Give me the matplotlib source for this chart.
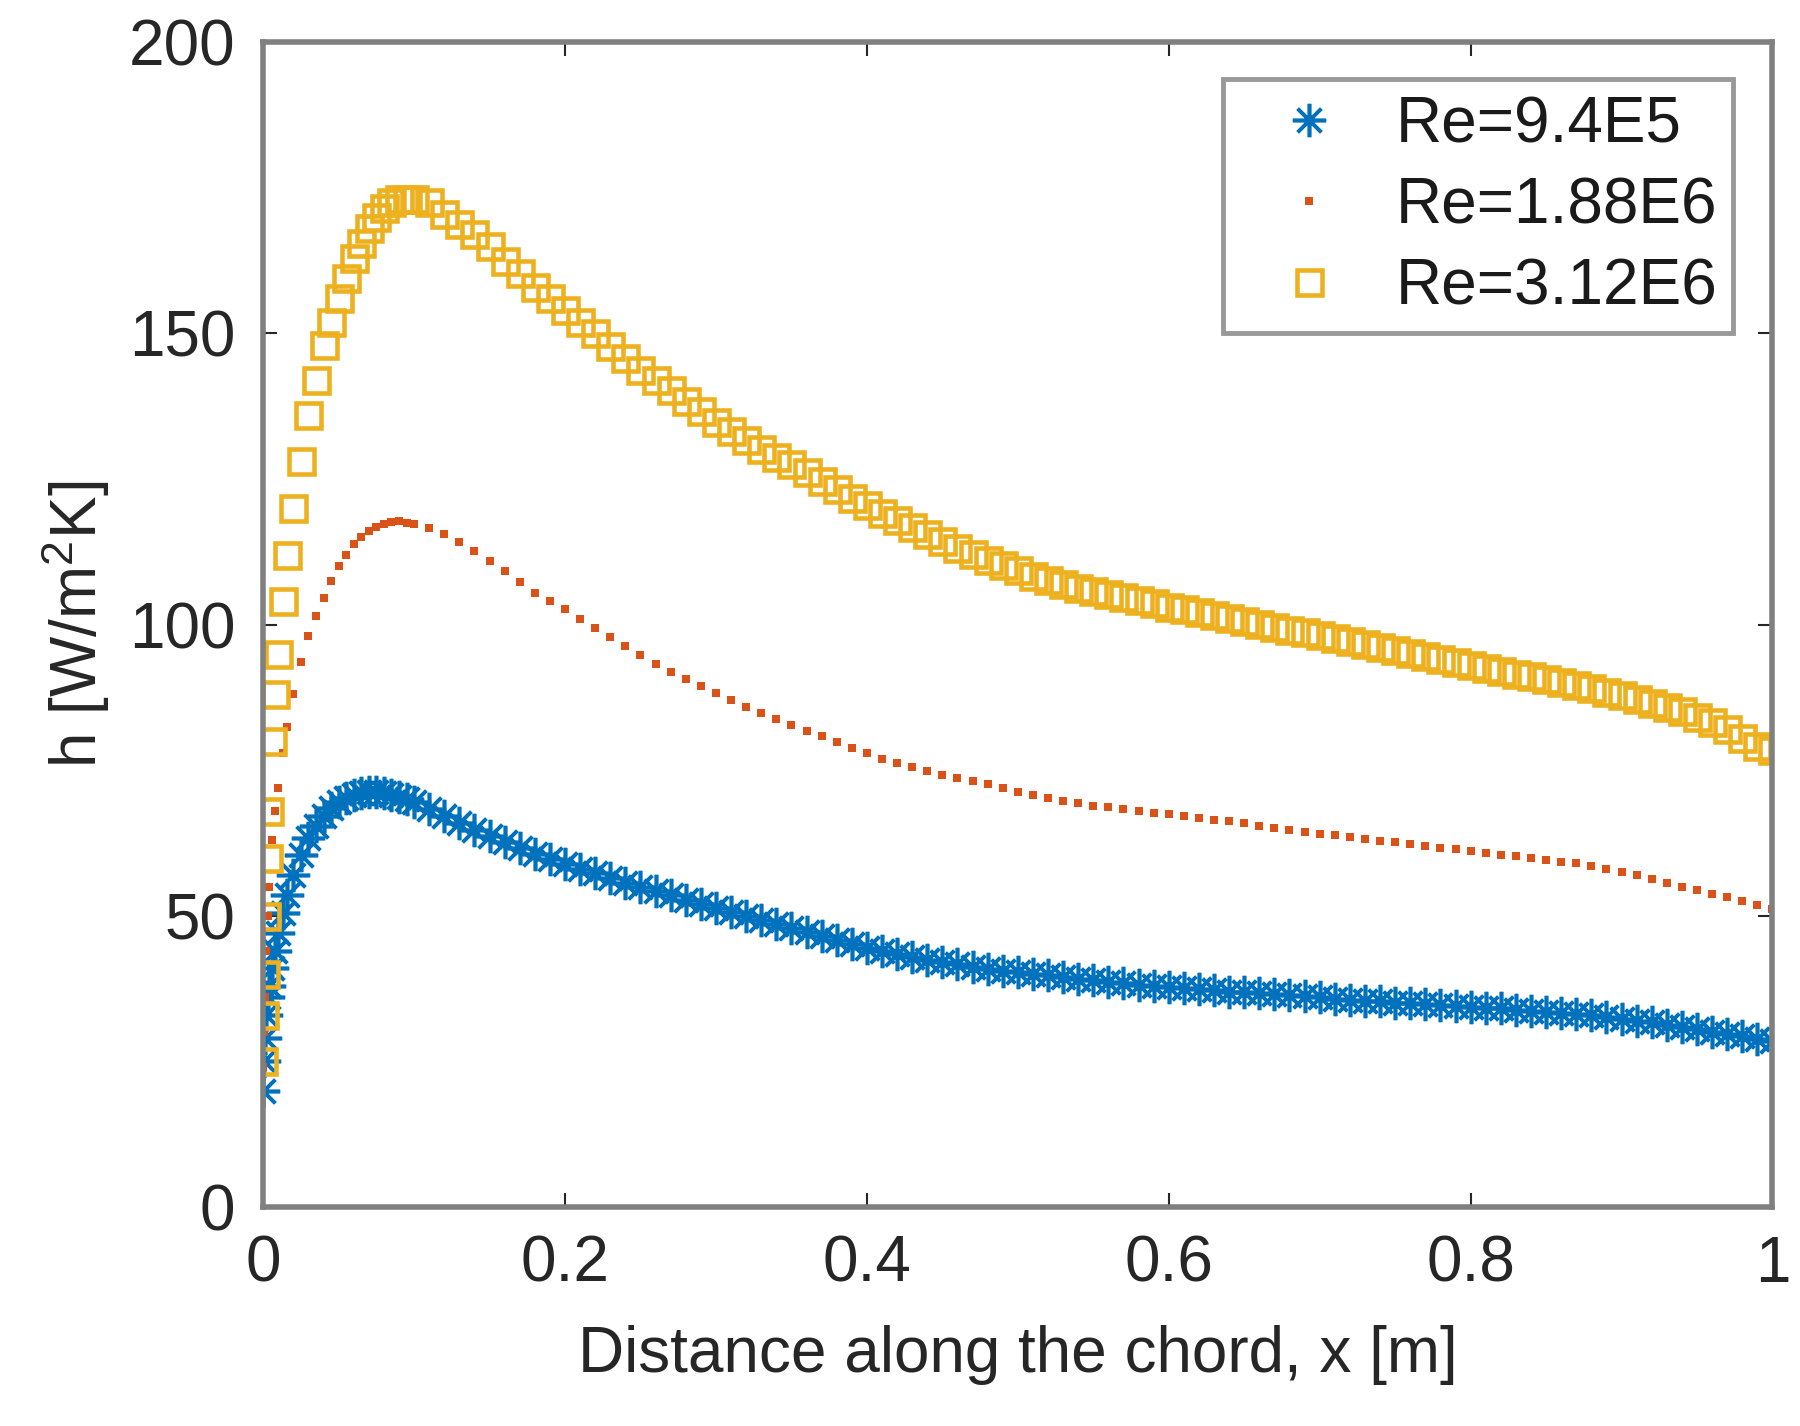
import matplotlib
matplotlib.use("Agg")
import matplotlib.pyplot as plt

plt.rcParams['font.family'] = ['Liberation Sans', 'DejaVu Sans']
plt.rcParams['mathtext.fontset'] = 'custom'
plt.rcParams['mathtext.rm'] = 'Liberation Sans'
plt.rcParams['mathtext.it'] = 'Liberation Sans'

# chord positions [m]
x_pos = [0.0, 0.0005, 0.001, 0.002, 0.003, 0.004, 0.006, 0.008, 0.010, 0.013, 0.016, 0.020,
         0.025, 0.030, 0.035, 0.040, 0.045, 0.050, 0.055, 0.060,
         0.065, 0.070, 0.075, 0.080, 0.085, 0.090, 0.095, 0.100,
         0.11, 0.12, 0.13, 0.14, 0.15, 0.16, 0.17, 0.18, 0.19, 0.20,
         0.21, 0.22, 0.23, 0.24, 0.25, 0.26, 0.27, 0.28, 0.29, 0.30,
         0.31, 0.32, 0.33, 0.34, 0.35, 0.36, 0.37, 0.38, 0.39, 0.40,
         0.41, 0.42, 0.43, 0.44, 0.45, 0.46, 0.47, 0.48, 0.49, 0.50,
         0.51, 0.52, 0.53, 0.54, 0.55, 0.56, 0.57, 0.58, 0.59, 0.60,
         0.61, 0.62, 0.63, 0.64, 0.65, 0.66, 0.67, 0.68, 0.69, 0.70,
         0.71, 0.72, 0.73, 0.74, 0.75, 0.76, 0.77, 0.78, 0.79, 0.80,
         0.81, 0.82, 0.83, 0.84, 0.85, 0.86, 0.87, 0.88, 0.89, 0.90,
         0.91, 0.92, 0.93, 0.94, 0.95, 0.96, 0.97, 0.98, 0.99, 1.00]

# heat transfer coefficient h [W/m2K]
h_re94e5 = [20, 25, 29, 33, 36, 38, 41, 44, 47, 50.5, 53.5, 57,
            60.5, 63.3, 65.5, 67.2, 68.5, 69.5, 70.3, 70.8,
            71.1, 71.3, 71.3, 71.1, 70.8, 70.4, 70.0, 69.5,
            68.4, 67.2, 66.0, 64.8, 63.7, 62.6, 61.6, 60.6, 59.7, 58.9,
            58.1, 57.3, 56.5, 55.7, 54.9, 54.2, 53.5, 52.8, 52.1, 51.4,
            50.7, 50.0, 49.3, 48.6, 47.9, 47.2, 46.5, 45.8, 45.1, 44.5,
            43.9, 43.4, 42.9, 42.5, 42.1, 41.7, 41.3, 40.9, 40.6, 40.3,
            40.0, 39.8, 39.5, 39.2, 39.0, 38.7, 38.5, 38.2, 38.0, 37.8,
            37.6, 37.4, 37.2, 37.0, 36.9, 36.7, 36.5, 36.4, 36.2, 36.0,
            35.8, 35.6, 35.4, 35.3, 35.1, 35.0, 34.8, 34.7, 34.5, 34.4,
            34.2, 34.1, 33.9, 33.7, 33.5, 33.3, 33.1, 32.9, 32.6, 32.3,
            32.0, 31.7, 31.3, 30.9, 30.5, 30.1, 29.7, 29.3, 28.9, 28.5]

h_re188e6 = [24, 30, 36, 44, 50, 55, 63, 68, 72, 78, 82.5, 88,
             93.5, 98, 101.5, 104.5, 107.5, 110, 112, 113.8,
             115, 116, 116.8, 117.3, 117.6, 117.7, 117.5, 117.2,
             116.5, 115.6, 114.2, 112.6, 111.0, 109.2, 107.3, 105.4, 104.0, 102.6,
             101.0, 99.4, 97.8, 96.3, 94.8, 93.3, 91.9, 90.6, 89.4, 88.2,
             87.0, 85.9, 84.8, 83.8, 82.8, 81.8, 80.8, 79.8, 78.8, 77.9,
             77.0, 76.2, 75.5, 74.8, 74.2, 73.7, 73.2, 72.6, 72.0, 71.3,
             70.8, 70.2, 69.7, 69.3, 68.9, 68.6, 68.3, 68.0, 67.7, 67.4,
             67.1, 66.8, 66.5, 66.2, 65.9, 65.5, 65.1, 64.8, 64.4, 64.1,
             63.8, 63.5, 63.2, 62.9, 62.6, 62.3, 62.0, 61.7, 61.4, 61.1,
             60.8, 60.5, 60.2, 59.9, 59.6, 59.3, 59.0, 58.6, 58.1, 57.6,
             57.0, 56.3, 55.6, 55.0, 54.4, 53.8, 53.2, 52.5, 51.8, 51.2]

h_re312e6 = [25, 33, 40, 50, 60, 68, 80, 88, 95, 104, 112, 120,
             128, 136, 142, 148, 152, 156, 159.5, 163,
             165.5, 168, 170, 171.5, 172.5, 173, 173, 173,
             172.5, 170.5, 168.8, 167.0, 165.0, 162.5, 160.3, 158.0, 156.0, 154.0,
             152.0, 150.0, 147.8, 145.7, 143.7, 142.0, 140.2, 138.4, 136.6, 134.8,
             133.2, 131.7, 130.2, 128.8, 127.5, 126.2, 124.7, 123.2, 121.8, 120.5,
             119.2, 118.0, 116.8, 115.5, 114.3, 113.1, 112.1, 111.1, 110.2, 109.3,
             108.4, 107.6, 106.9, 106.3, 105.7, 105.2, 104.7, 104.2, 103.7, 103.1,
             102.6, 102.1, 101.6, 101.1, 100.6, 100.1, 99.6, 99.1, 98.7, 98.2,
             97.7, 97.2, 96.7, 96.2, 95.6, 95.1, 94.6, 94.1, 93.6, 93.1,
             92.6, 92.1, 91.6, 91.1, 90.6, 90.1, 89.6, 89.1, 88.5, 87.9,
             87.3, 86.6, 85.9, 85.1, 84.2, 83.2, 82.0, 80.6, 79.2, 78.5]

labels = ['Re=9.4E5', 'Re=1.88E6', 'Re=3.12E6']

fig = plt.figure(figsize=(18, 14.26), dpi=100)
ax = fig.add_axes([0.1462, 0.1535, 0.8385, 0.8170])

ax.plot(x_pos, h_re94e5, linestyle='none', marker=(8, 2, 0), markersize=24,
        markeredgewidth=2.6, color='#0072BD', label=labels[0])
ax.plot(x_pos, h_re188e6, linestyle='none', marker='s', markersize=6,
        markeredgewidth=0, color='#D95319', label=labels[1])
ax.plot(x_pos, h_re312e6, linestyle='none', marker='s', markersize=18,
        markeredgewidth=3.3, markerfacecolor='none', color='#EDB120', label=labels[2])

ax.set_xlim(0, 1)
ax.set_ylim(0, 200)
ax.set_xticks([0, 0.2, 0.4, 0.6, 0.8, 1])
ax.set_xticklabels(['0', '0.2', '0.4', '0.6', '0.8', '1'])
ax.set_yticks([0, 50, 100, 150, 200])

for s in ax.spines.values():
    s.set_color('#808080')
    s.set_linewidth(4)
ax.tick_params(direction='in', length=10, width=1.5, color='#262626',
               labelsize=46, labelcolor='#262626', pad=20,
               top=True, right=True)

ax.set_xlabel('Distance along the chord, x [m]', fontsize=46, color='#262626', labelpad=22)
ax.set_ylabel('h [W/m$^2$K]', fontsize=46, color='#262626', labelpad=12)

leg = ax.legend(loc='upper right', bbox_to_anchor=(0.974, 0.968), fontsize=46,
                frameon=True, fancybox=False, borderpad=0.25, labelspacing=0.33,
                handlelength=2.2, handletextpad=0.25, borderaxespad=0)
leg.get_frame().set_edgecolor('#808080')
leg.get_frame().set_linewidth(3.5)
for t in leg.get_texts():
    t.set_color('#1a1a1a')

fig.savefig('out.png', dpi=100)
